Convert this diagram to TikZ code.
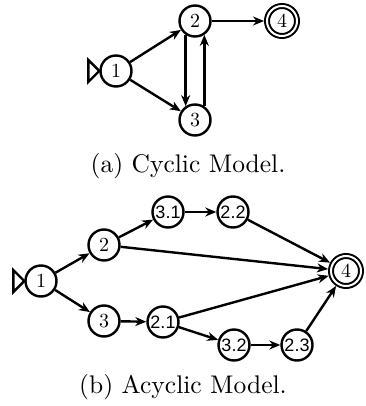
\documentclass[tikz,border=0pt]{standalone}
\usepackage{fontspec}
\newfontfamily\decfont{Liberation Sans}
\newfontfamily\tenfont{lmroman10-regular.otf}
\usetikzlibrary{arrows.meta}
\begin{document}
\begin{tikzpicture}[x=1pt,y=-1pt,
  st/.style={circle,draw,line width=2.4pt,minimum size=31pt,inner sep=0pt,font=\tenfont\fontsize{20}{20}\selectfont},
  dst/.style={st,font=\decfont\fontsize{18}{18}\selectfont},
  acc/.style={st,double,line width=2pt,double distance=2pt,minimum size=30pt,outer sep=3pt},
  ed/.style={line width=2.4pt,-{Stealth[length=11pt,width=9pt,inset=3.5pt]}},
  init/.style={line width=2.4pt,fill=white},
  captext/.style={font=\tenfont\fontsize{25.5}{25.5}\selectfont}]
\useasboundingbox (0,0) rectangle (365,406);
% top
\node[st] (a1) at (116,71) {1};
\node[st] (a2) at (195,21) {2};
\node[st] (a3) at (195,120) {3};
\node[acc] (a4) at (282,21) {4};
\draw[init] (a1.west) -- ++(-11,-11) -- ++(0,22) -- cycle;
\draw[ed] (a1) -- (a2);
\draw[ed] (a1) -- (a3);
\draw[ed] (a2) -- (a4);
\draw[ed] (a2.236) -- (a3.124);
\draw[ed] (a3.56) -- (a2.304);
\node[captext] (capa) at (188,166) {(a) Cyclic Model.};
% bottom
\node[st] (b1) at (41,281) {1};
\node[st] (b2) at (104,245) {2};
\node[st] (b3) at (104,321) {3};
\node[dst] (b31) at (168,212) {3.1};
\node[dst] (b22) at (233,212) {2.2};
\node[dst] (b21) at (163,322) {2.1};
\node[dst] (b32) at (234,345) {3.2};
\node[dst] (b23) at (297,345) {2.3};
\node[acc] (b4) at (346,271) {4};
\draw[init] (b1.west) -- ++(-11,-11) -- ++(0,22) -- cycle;
\draw[ed] (b1) -- (b2);
\draw[ed] (b1) -- (b3);
\draw[ed] (b2) -- (b31);
\draw[ed] (b31) -- (b22);
\draw[ed] (b22) -- (b4);
\draw[ed] (b2) -- (b4);
\draw[ed] (b3) -- (b21);
\draw[ed] (b21) -- (b4);
\draw[ed] (b21) -- (b32);
\draw[ed] (b32) -- (b23);
\draw[ed] (b23) -- (b4);
\node[captext] (capb) at (183,387) {(b) Acyclic Model.};
\end{tikzpicture}
\end{document}
